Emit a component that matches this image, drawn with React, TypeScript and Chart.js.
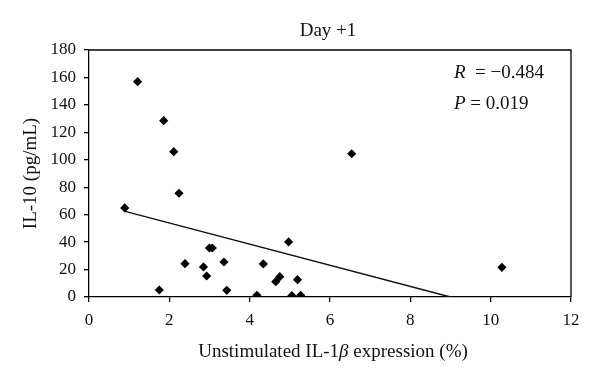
import React, { useEffect, useRef } from "react";
import { Chart, registerables } from "chart.js";

Chart.register(...registerables);

const xValues = [1.21, 1.86, 2.11, 6.54, 2.24, 0.89, 1.75, 2.39, 2.85, 2.93, 3.0, 3.07, 3.36, 3.43, 4.18, 4.34, 4.65, 4.75, 4.97, 5.05, 5.19, 5.27, 10.28];
const yValues = [156.9, 128.5, 105.9, 104.4, 75.6, 64.9, 5.1, 24.3, 21.9, 15.3, 35.7, 35.7, 25.5, 4.9, 1.2, 24.1, 11.2, 14.8, 40.1, 1.0, 12.6, 1.2, 21.6];
const trendX = [0.9, 9.0];
const trendY = [62.4, 0];
const xTicks = [0, 2, 4, 6, 8, 10, 12];
const yTicks = [0, 20, 40, 60, 80, 100, 120, 140, 160, 180];
const titleText = "Day +1";
const yTitle = "IL-10 (pg/mL)";
const rLabel = "R";
const rValue = "  = \u22120.484";
const pLabel = "P";
const pValue = " = 0.019";

const FONT = "'Liberation Serif', 'Times New Roman', serif";

const textPlugin = {
  id: "textPlugin",
  afterDraw(chart: any) {
    const { ctx, chartArea } = chart;
    const { left, right, top, bottom } = chartArea;
    ctx.save();
    ctx.strokeStyle = "#000";
    ctx.lineWidth = 1.3;
    ctx.beginPath();
    ctx.moveTo(left, top);
    ctx.lineTo(right, top);
    ctx.lineTo(right, bottom);
    ctx.stroke();

    ctx.fillStyle = "#111";
    ctx.textBaseline = "middle";
    ctx.font = `19px ${FONT}`;
    ctx.textAlign = "center";
    ctx.fillText(titleText, (left + right) / 2 - 2, 31);

    const parts: [string, string][] = [
      ["Unstimulated IL-1", `19px ${FONT}`],
      ["\u03B2", `italic 19px ${FONT}`],
      [" expression (%)", `19px ${FONT}`],
    ];
    let total = 0;
    for (const [t, f] of parts) {
      ctx.font = f;
      total += ctx.measureText(t).width;
    }
    let x = (left + right) / 2 + 3 - total / 2;
    ctx.textAlign = "left";
    for (const [t, f] of parts) {
      ctx.font = f;
      ctx.fillText(t, x, 352);
      x += ctx.measureText(t).width;
    }

    const drawLine = (lab: string, val: string, y: number) => {
      let xx = 454;
      ctx.font = `italic 19px ${FONT}`;
      ctx.fillText(lab, xx, y);
      xx += ctx.measureText(lab).width;
      ctx.font = `19px ${FONT}`;
      ctx.fillText(val, xx, y);
    };
    drawLine(rLabel, rValue, 73);
    drawLine(pLabel, pValue, 104);
    ctx.restore();
  },
};

export default function App() {
  const ref = useRef<HTMLCanvasElement | null>(null);
  useEffect(() => {
    document.body.style.margin = "0";
    const chart = new Chart(ref.current as HTMLCanvasElement, {
      type: "scatter",
      data: {
        datasets: [
          {
            type: "scatter",
            data: xValues.map((x, i) => ({ x, y: yValues[i] })),
            pointStyle: "rectRot",
            pointRadius: 4.6,
            backgroundColor: "#000",
            borderColor: "#000",
            borderWidth: 0,
          },
          {
            type: "line",
            data: trendX.map((x, i) => ({ x, y: trendY[i] })),
            borderColor: "#111",
            borderWidth: 1.5,
            pointRadius: 0,
            fill: false,
          } as any,
        ],
      },
      options: {
        animation: false,
        responsive: false,
        maintainAspectRatio: false,
        layout: { padding: { top: 50, right: 29, left: 0, bottom: 0 } },
        plugins: { legend: { display: false }, tooltip: { enabled: false }, title: { display: false } },
        scales: {
          x: {
            type: "linear",
            min: 0,
            max: 12,
            afterBuildTicks: (s: any) => { s.ticks = xTicks.map((v) => ({ value: v })); },
            afterFit: (s: any) => { s.height = 82; },
            border: { color: "#000", width: 1.3 },
            grid: { drawOnChartArea: false, tickLength: 5, color: "#000", lineWidth: 1.3 },
            ticks: { color: "#111", font: { family: FONT, size: 17 }, padding: 8 },
          },
          y: {
            type: "linear",
            min: 0,
            max: 180,
            afterBuildTicks: (s: any) => { s.ticks = yTicks.map((v) => ({ value: v })); },
            afterFit: (s: any) => { s.width = 89; },
            border: { color: "#000", width: 1.3 },
            grid: { drawOnChartArea: false, tickLength: 5, color: "#000", lineWidth: 1.3 },
            ticks: { color: "#111", font: { family: FONT, size: 17 }, padding: 8 },
            title: { display: true, text: yTitle, color: "#111", font: { family: FONT, size: 19 }, padding: { top: 20, bottom: 0 } },
          },
        },
      },
      plugins: [textPlugin],
    });
    return () => chart.destroy();
  }, []);
  return <canvas ref={ref} width={600} height={379} style={{ display: "block" }} />;
}
